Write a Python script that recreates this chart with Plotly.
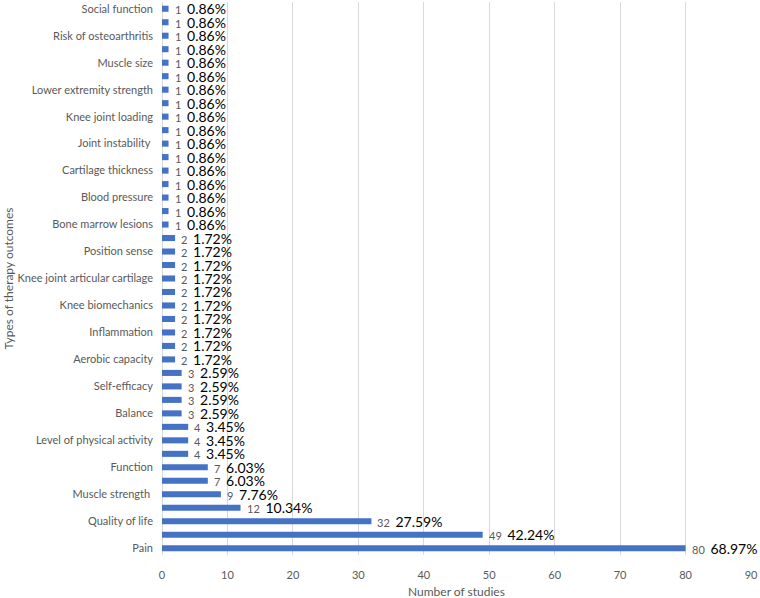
import plotly.graph_objects as go

# Categories from bottom (index 0) to top; "" = unlabeled category row
category_labels = [
    "Pain", "", "Quality of life", "", "Muscle strength ", "", "Function", "",
    "Level of physical activity", "", "Balance", "", "Self-efficacy", "",
    "Aerobic capacity", "", "Inflammation", "", "Knee biomechanics", "",
    "Knee joint articular cartilage", "", "Position sense", "",
    "Bone marrow lesions", "", "Blood pressure", "", "Cartilage thickness", "",
    "Joint instability ", "", "Knee joint loading", "", "Lower extremity strength", "",
    "Muscle size", "", "Risk of osteoarthritis", "", "Social function",
]
study_counts = [
    80, 49, 32, 12, 9, 7, 7, 4, 4, 4, 3, 3, 3, 3,
    2, 2, 2, 2, 2, 2, 2, 2, 2, 2,
    1, 1, 1, 1, 1, 1, 1, 1, 1, 1, 1, 1, 1, 1, 1, 1, 1,
]
total_studies = 116
x_ticks = [0, 10, 20, 30, 40, 50, 60, 70, 80, 90]

positions = list(range(len(study_counts)))
pct_labels = [f"{v / total_studies * 100:.2f}%" for v in study_counts]

W, H = 760, 598
L, R, T, B = 162, 9, 2, 43

fig = go.Figure()
fig.add_trace(go.Bar(
    x=study_counts, y=positions, orientation="h",
    marker=dict(color="#4472C4", line=dict(width=0)),
    width=0.45, hoverinfo="skip",
))

for v, p, pct in zip(study_counts, positions, pct_labels):
    fig.add_annotation(
        x=v, y=p, xref="x", yref="y", xanchor="left", yanchor="middle",
        xshift=4, showarrow=False,
        text=(f"<span style='color:#595959;font-size:11px'>{v}</span>"
              f"<span style='font-size:11px'>  </span>"
              f"<span style='color:#000000;font-size:14px'>{pct}</span>"),
        font=dict(family="Lato, Carlito, sans-serif", size=14, color="#000000"),
    )

tick_idx = [i for i, lab in enumerate(category_labels) if lab]
fig.update_yaxes(
    range=[-0.5, len(study_counts) - 0.5],
    tickvals=tick_idx, ticktext=[category_labels[i] for i in tick_idx],
    showgrid=False, zeroline=False, showline=False, ticks="",
    ticklabelstandoff=8,
    tickfont=dict(family="Lato, Carlito, sans-serif", size=11, color="#595959"),
)
fig.update_xaxes(
    range=[0, 90], tickvals=x_ticks,
    showgrid=True, gridcolor="#D9D9D9", gridwidth=1,
    zeroline=True, zerolinecolor="#D9D9D9", zerolinewidth=1,
    showline=False, ticks="", ticklabelstandoff=12,
    tickfont=dict(family="Lato, Carlito, sans-serif", size=11, color="#595959"),
)

fig.add_annotation(
    x=0.5, y=0, xref="paper", yref="paper", yanchor="top", xanchor="center",
    yshift=-27, showarrow=False, text="Number of studies",
    font=dict(family="Lato, Carlito, sans-serif", size=12, color="#595959"),
)
fig.add_annotation(
    x=(8 - L) / (W - L - R), y=0.5, xref="paper", yref="paper",
    xanchor="center", yanchor="middle", textangle=-90, showarrow=False,
    text="Types of therapy outcomes",
    font=dict(family="Lato, Carlito, sans-serif", size=12, color="#595959"),
)

fig.update_layout(
    width=W, height=H,
    margin=dict(l=L, r=R, t=T, b=B),
    paper_bgcolor="white", plot_bgcolor="white",
    showlegend=False, bargap=0.55,
)

fig.write_html("out.html")
